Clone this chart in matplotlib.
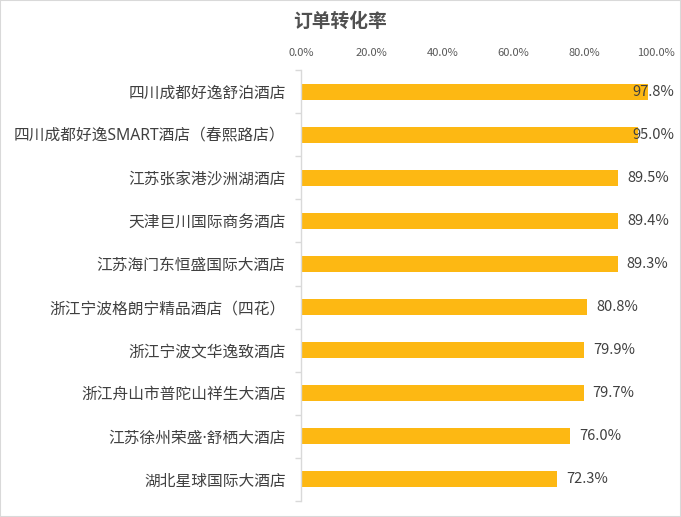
import matplotlib
matplotlib.use("Agg")
import matplotlib.pyplot as plt
import matplotlib.transforms as mtransforms
from matplotlib.patches import Rectangle
from matplotlib.ticker import FuncFormatter, FixedLocator

plt.rcParams['font.family'] = ['Noto Sans CJK SC', 'DejaVu Sans']

hotels = [
    "四川成都好逸舒泊酒店",
    "四川成都好逸SMART酒店（春熙路店）",
    "江苏张家港沙洲湖酒店",
    "天津巨川国际商务酒店",
    "江苏海门东恒盛国际大酒店",
    "浙江宁波格朗宁精品酒店（四花）",
    "浙江宁波文华逸致酒店",
    "浙江舟山市普陀山祥生大酒店",
    "江苏徐州荣盛·舒栖大酒店",
    "湖北星球国际大酒店",
]
rates = [0.978, 0.950, 0.895, 0.894, 0.893, 0.808, 0.799, 0.797, 0.760, 0.723]
xticks = [0.0, 0.2, 0.4, 0.6, 0.8, 1.0]
title = "订单转化率"

W, H = 681, 517
fig = plt.figure(figsize=(W / 100, H / 100), dpi=100)
ax = fig.add_axes([301 / W, 1 - 501 / H, (655.5 - 301) / W, (501 - 70) / H])

text_color = "#404040"
bar_color = "#FDB813"
grid_color = "#D9D9D9"

y = list(range(len(hotels)))
ax.barh(y, rates, height=0.37, color=bar_color, zorder=2)
ax.set_ylim(len(hotels) - 0.5, -0.5)
ax.set_xlim(0, 1.0)

ax.set_yticks(y)
ax.set_yticklabels(hotels, fontsize=11.3, color=text_color,
                   family=['Noto Sans', 'Noto Sans CJK SC'])
ax.yaxis.set_minor_locator(FixedLocator([i - 0.5 for i in range(len(hotels) + 1)]))
ax.tick_params(axis='y', which='major', length=0, pad=11)
ax.tick_params(axis='y', which='minor', length=4, color=grid_color, width=1)

ax.xaxis.tick_top()
ax.set_xticks(xticks)
ax.xaxis.set_major_formatter(FuncFormatter(lambda v, p: f"{v * 100:.1f}%"))
ax.tick_params(axis='x', length=0, pad=9, labelsize=8, labelcolor="#595959")

for s in ["top", "right", "bottom"]:
    ax.spines[s].set_visible(False)
ax.spines["left"].set_color(grid_color)
ax.spines["left"].set_linewidth(1)

# value labels: outside end, kept inside the chart area
fig.canvas.draw()
renderer = fig.canvas.get_renderer()
right_limit = 674 / W
trans_fig_data = mtransforms.blended_transform_factory(fig.transFigure, ax.transData)
for i, v in enumerate(rates):
    t = ax.annotate(f"{v * 100:.1f}%", xy=(v, i), xytext=(6.5, 0), textcoords="offset points",
                    ha="left", va="center", fontsize=10.5, color=text_color, zorder=3)
    bb = t.get_window_extent(renderer)
    if bb.x1 > right_limit * W:
        t.remove()
        ax.text(right_limit, i, f"{v * 100:.1f}%", transform=trans_fig_data,
                ha="right", va="center", fontsize=10.5, color=text_color, zorder=3)

fig.text(340 / W, 1 - 21 / H, title, ha="center", va="center", fontsize=13.5,
         fontweight="bold", color="#505050")

fig.patches.append(Rectangle((0, 0), 1, 1, transform=fig.transFigure, fill=False,
                             edgecolor=grid_color, linewidth=1.5))

fig.savefig("out.png", dpi=100)
